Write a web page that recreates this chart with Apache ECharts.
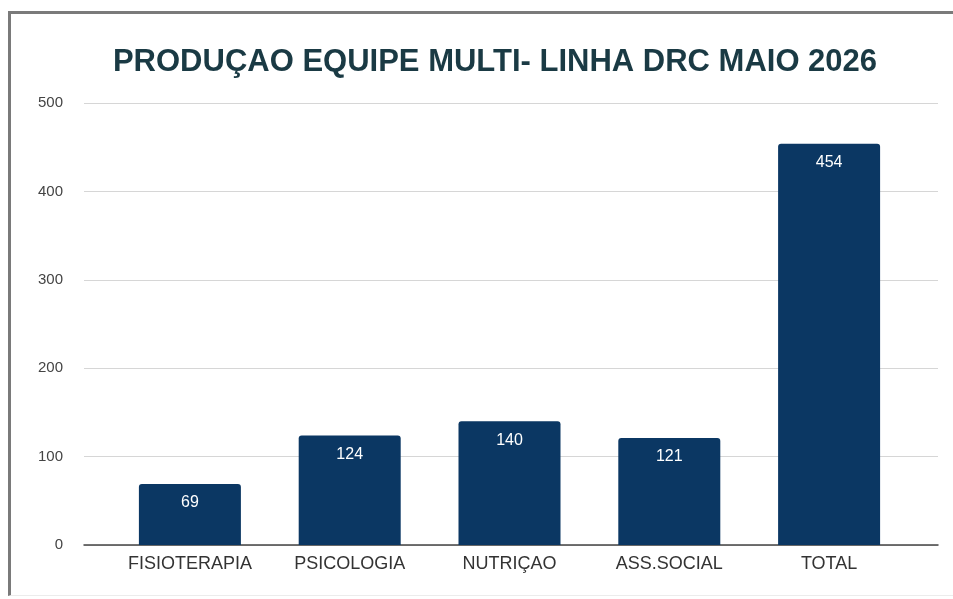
<!DOCTYPE html>
<html>
<head>
<meta charset="utf-8">
<script src="https://cdn.jsdelivr.net/npm/echarts@6/dist/echarts.min.js"></script>
<style>
  html, body { margin: 0; padding: 0; background: #fff; }
  #main { position: absolute; left: 0; top: 0; width: 953px; height: 599px; }
  #frame { position: absolute; left: 8px; top: 11px; right: 0; bottom: 3px;
           border-top: 3px solid #7a7a7a; border-left: 3px solid #7a7a7a;
           border-bottom: 1px solid #ececec; pointer-events: none; }
</style>
</head>
<body>
<div id="main"></div>
<div id="frame"></div>
<script>
// dados do grafico
var categorias = ['FISIOTERAPIA', 'PSICOLOGIA', 'NUTRIÇAO', 'ASS.SOCIAL', 'TOTAL'];
var producao = [69, 124, 140, 121, 454];
var eixoY = [0, 100, 200, 300, 400, 500];

var myChart = echarts.init(document.getElementById('main'));

var option = {
    animation: false,
    title: {
        text: 'PRODUÇAO EQUIPE MULTI- LINHA DRC MAIO 2026',
        left: 490,
        top: 42,
        textAlign: 'center',
        textStyle: {
            fontFamily: 'Liberation Sans',
            fontWeight: 'bold',
            fontSize: 31,
            color: '#1a3a44'
        }
    },
    // grid 0: linhas de grade largas, grid 1: barras
    grid: [
        { left: 84, right: 15, top: 103, bottom: 54 },
        { left: 110, right: 44, top: 103, bottom: 54 }
    ],
    xAxis: [
        {
            gridIndex: 0,
            type: 'value',
            min: 0, max: 1,
            axisLine: { show: true, onZero: false, lineStyle: { color: '#444', width: 1.5 } },
            axisTick: { show: false },
            axisLabel: { show: false },
            splitLine: { show: false }
        },
        {
            gridIndex: 1,
            type: 'category',
            data: categorias,
            axisLine: { show: false },
            axisTick: { show: false },
            axisLabel: { interval: 0, color: '#333', fontSize: 18, fontFamily: 'Liberation Sans', margin: 10 }
        }
    ],
    yAxis: [
        {
            gridIndex: 0,
            type: 'value',
            min: eixoY[0],
            max: eixoY[eixoY.length - 1],
            interval: 100,
            axisLine: { show: false },
            axisTick: { show: false },
            axisLabel: { color: '#444', fontSize: 15, fontFamily: 'Liberation Sans', margin: 21 },
            splitLine: { lineStyle: { color: '#d6d6d6', width: 1 } }
        },
        {
            gridIndex: 1,
            type: 'value',
            min: eixoY[0],
            max: eixoY[eixoY.length - 1],
            show: false
        }
    ],
    series: [
        {
            type: 'bar',
            xAxisIndex: 1,
            yAxisIndex: 1,
            data: producao,
            barWidth: 102,
            itemStyle: { color: '#0b3763', borderRadius: [3, 3, 0, 0] },
            label: {
                show: true,
                position: 'insideTop',
                distance: 11,
                color: '#fff',
                fontSize: 16,
                fontFamily: 'Liberation Sans'
            },
            z: 3
        }
    ]
};

myChart.setOption(option);
</script>
</body>
</html>
